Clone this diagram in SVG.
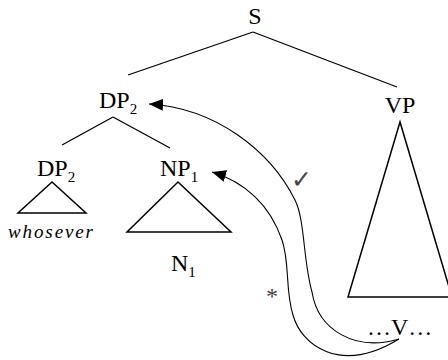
<svg xmlns="http://www.w3.org/2000/svg" width="448" height="360" viewBox="0 0 448 360">
<style>
text{font-family:'Liberation Serif','Times New Roman',Times,serif}
.lbl{font-size:24px;fill:#000}
.sub{font-size:15px}
.edge{stroke:#000;stroke-width:1.3;fill:none}
.tri{stroke:#000;stroke-width:1.5;fill:none;stroke-linejoin:miter}
.mv{stroke:#000;stroke-width:1.1;fill:none}
</style>
<defs>
<marker id="ah" viewBox="0 0 14 12" refX="14" refY="6" markerWidth="14" markerHeight="12" markerUnits="userSpaceOnUse" orient="auto-start-reverse">
<path d="M0,0 L14,6 L0,12 z" fill="#000"/>
</marker>
</defs>
<rect width="448" height="360" fill="#fff"/>
<g id="edges">
<line class="edge" x1="253" y1="32" x2="128" y2="75"/>
<line class="edge" x1="253" y1="32" x2="397" y2="87"/>
<line class="edge" x1="113" y1="117" x2="62" y2="145"/>
<line class="edge" x1="113" y1="117" x2="170" y2="148"/>
</g>
<g id="S"><text class="lbl" font-family="Liberation Serif" x="255" y="24" text-anchor="middle">S</text></g>
<g id="DP2-top"><text class="lbl" font-family="Liberation Serif" x="99" y="108">DP<tspan class="sub" dy="6">2</tspan></text></g>
<g id="VP"><text class="lbl" font-family="Liberation Serif" x="400" y="113" text-anchor="middle">VP</text>
<polygon class="tri" points="400,122 348,297 452,297"/></g>
<g id="DP2-low"><text class="lbl" font-family="Liberation Serif" x="37" y="176">DP<tspan class="sub" dy="6">2</tspan></text>
<polygon class="tri" points="52,182 18,213 86,213"/>
<text x="8" y="238" font-family="Liberation Serif" font-style="italic" font-size="19" textLength="85" lengthAdjust="spacing">whosever</text></g>
<g id="NP1"><text class="lbl" font-family="Liberation Serif" x="160" y="176">NP<tspan class="sub" dy="6">1</tspan></text>
<polygon class="tri" points="178,182 127,232 231,232"/>
<text class="lbl" font-family="Liberation Serif" x="171" y="271">N<tspan class="sub" dy="6">1</tspan></text></g>
<g id="V"><text class="lbl" font-family="Liberation Serif" x="367" y="335">…V…</text></g>
<g id="movement">
<path class="mv" marker-start="url(#ah)" d="M149,104 C215,108 270,150 295,200 C305,220 303,260 312,292 C318,330 355,352 399,339"/>
<path class="mv" marker-start="url(#ah)" d="M212,172 C245,182 270,205 282,240 C290,263 285,290 293,315 C301,345 340,375 399,339"/>
<text x="291" y="188" font-family="DejaVu Sans" font-size="25" fill="#444">✓</text>
<text x="266" y="304" font-family="Liberation Serif" font-size="24" fill="#444">*</text>
</g>
</svg>
